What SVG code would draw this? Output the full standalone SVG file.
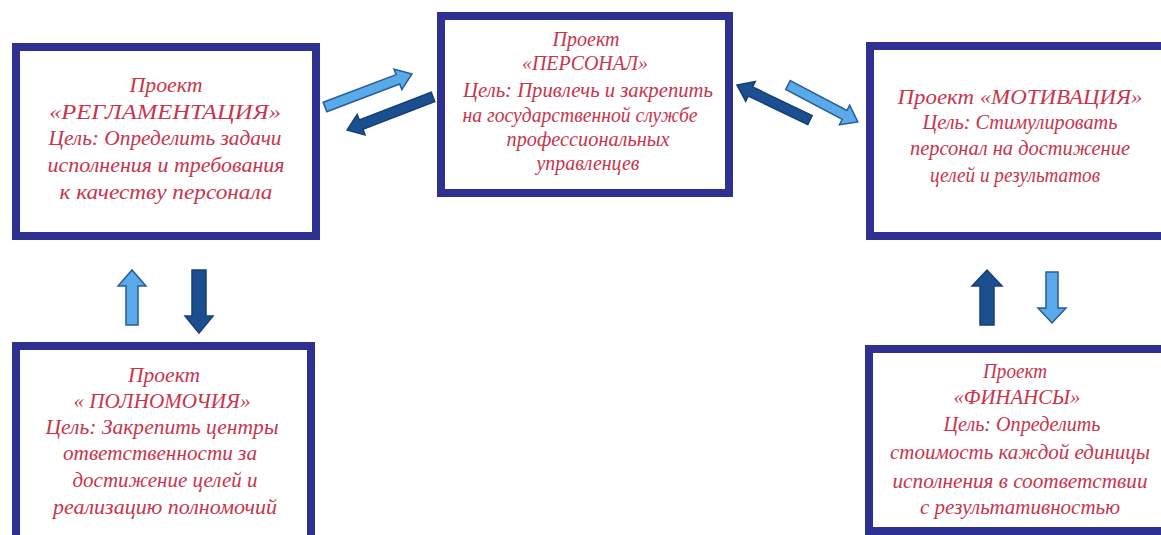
<svg xmlns="http://www.w3.org/2000/svg" width="1161" height="535" viewBox="0 0 1161 535">
<style>
.box{fill:#fff;stroke:#2F3192;stroke-width:8}
.t{font-family:"Liberation Serif",serif;font-style:italic;font-size:21px;fill:#C8344C;text-anchor:middle}
.lt{fill:#58AAE8;stroke:#2B5A9E;stroke-width:1.5}
.dk{fill:#1C4F90;stroke:#163F78;stroke-width:1.5}
</style>
<rect width="1161" height="535" fill="#fff"/>
<g id="reglament">
<rect class="box" x="16" y="47" width="300" height="189"/>
<text class="t" x="166" y="92" textLength="73" lengthAdjust="spacingAndGlyphs">Проект</text>
<text class="t" x="165" y="119" textLength="232" lengthAdjust="spacingAndGlyphs">«РЕГЛАМЕНТАЦИЯ»</text>
<text class="t" x="165" y="145" textLength="233" lengthAdjust="spacingAndGlyphs">Цель: Определить задачи</text>
<text class="t" x="166" y="172" textLength="237" lengthAdjust="spacingAndGlyphs">исполнения  и требования</text>
<text class="t" x="166" y="199" textLength="213" lengthAdjust="spacingAndGlyphs">к качеству персонала</text>
</g>
<g id="personal">
<rect class="box" x="441" y="16" width="288" height="177"/>
<text class="t" x="586" y="46" textLength="67" lengthAdjust="spacingAndGlyphs">Проект</text>
<text class="t" x="585" y="70" textLength="126" lengthAdjust="spacingAndGlyphs">«ПЕРСОНАЛ»</text>
<text class="t" x="588" y="97" textLength="250" lengthAdjust="spacingAndGlyphs">Цель: Привлечь и закрепить</text>
<text class="t" x="580" y="122" textLength="235" lengthAdjust="spacingAndGlyphs">на государственной службе</text>
<text class="t" x="588" y="146" textLength="163" lengthAdjust="spacingAndGlyphs">профессиональных</text>
<text class="t" x="588" y="170" textLength="103" lengthAdjust="spacingAndGlyphs">управленцев</text>
</g>
<g id="motivation">
<rect class="box" x="870" y="46" width="300" height="190"/>
<text class="t" x="1020" y="104" textLength="245" lengthAdjust="spacingAndGlyphs">Проект «МОТИВАЦИЯ»</text>
<text class="t" x="1020" y="129" textLength="195" lengthAdjust="spacingAndGlyphs">Цель: Стимулировать</text>
<text class="t" x="1020" y="155" textLength="220" lengthAdjust="spacingAndGlyphs">персонал на достижение</text>
<text class="t" x="1015" y="182" textLength="170" lengthAdjust="spacingAndGlyphs">целей и результатов</text>
</g>
<g id="polnomochia">
<rect class="box" x="16" y="346" width="295" height="200"/>
<text class="t" x="164" y="382" textLength="72" lengthAdjust="spacingAndGlyphs">Проект</text>
<text class="t" x="162" y="408" textLength="177" lengthAdjust="spacingAndGlyphs">« ПОЛНОМОЧИЯ»</text>
<text class="t" x="162" y="434" textLength="233" lengthAdjust="spacingAndGlyphs">Цель: Закрепить центры</text>
<text class="t" x="160" y="460" textLength="194" lengthAdjust="spacingAndGlyphs">ответственности за</text>
<text class="t" x="165" y="487" textLength="185" lengthAdjust="spacingAndGlyphs">достижение целей и</text>
<text class="t" x="165" y="514" textLength="224" lengthAdjust="spacingAndGlyphs">реализацию полномочий</text>
</g>
<g id="finansy">
<rect class="box" x="869" y="349" width="300" height="182"/>
<text class="t" x="1015" y="378" textLength="64" lengthAdjust="spacingAndGlyphs">Проект</text>
<text class="t" x="1017" y="404" textLength="127" lengthAdjust="spacingAndGlyphs">«ФИНАНСЫ»</text>
<text class="t" x="1022" y="431" textLength="157" lengthAdjust="spacingAndGlyphs">Цель: Определить</text>
<text class="t" x="1020" y="459" textLength="260" lengthAdjust="spacingAndGlyphs">стоимость каждой единицы</text>
<text class="t" x="1020" y="488" textLength="255" lengthAdjust="spacingAndGlyphs">исполнения в соответствии</text>
<text class="t" x="1020" y="514" textLength="200" lengthAdjust="spacingAndGlyphs">с результативностью</text>
</g>
<g id="connectors">
<path class="lt" transform="translate(325,107) rotate(-20.8)" d="M0,-5 L78,-5 L78,-11 L93,0 L78,11 L78,5 L0,5 Z"/>
<path class="dk" transform="translate(433,97) rotate(159)" d="M0,-5 L77,-5 L77,-11 L92,0 L77,11 L77,5 L0,5 Z"/>
<path class="dk" transform="translate(810,120) rotate(205.6)" d="M0,-5 L66,-5 L66,-11 L81,0 L66,11 L66,5 L0,5 Z"/>
<path class="lt" transform="translate(788,85) rotate(27.9)" d="M0,-5 L64,-5 L64,-11 L79,0 L64,11 L64,5 L0,5 Z"/>
<path class="lt" transform="translate(132,325) rotate(-90)" d="M0,-6 L39,-6 L39,-14 L55,0 L39,14 L39,6 L0,6 Z"/>
<path class="dk" transform="translate(199,270) rotate(90)" d="M0,-7 L46,-7 L46,-14 L63,0 L46,14 L46,7 L0,7 Z"/>
<path class="dk" transform="translate(987,325) rotate(-90)" d="M0,-7 L39,-7 L39,-15 L55,0 L39,15 L39,7 L0,7 Z"/>
<path class="lt" transform="translate(1052,272) rotate(90)" d="M0,-6 L36,-6 L36,-14 L51,0 L36,14 L36,6 L0,6 Z"/>
</g>
</svg>
